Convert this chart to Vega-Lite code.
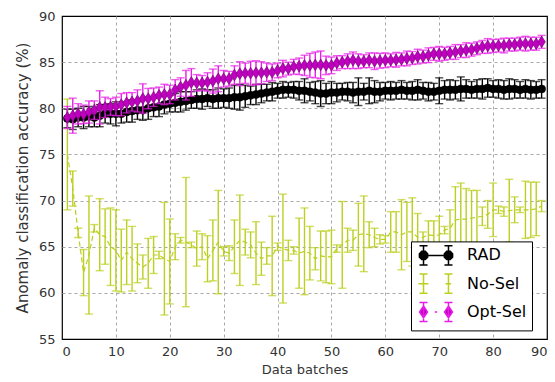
{
  "$schema": "https://vega.github.io/schema/vega-lite/v6.json",
  "width": 485,
  "height": 323,
  "autosize": "none",
  "padding": {"left": 62, "top": 16, "right": 8, "bottom": 43},
  "background": "white",
  "config": {
    "font": "DejaVu Sans",
    "view": {"stroke": "black", "strokeWidth": 1.2},
    "axis": {
      "grid": true, "gridColor": "#a8a8a8", "gridDash": [3, 3], "gridWidth": 1,
      "domain": false, "ticks": false,
      "labelFont": "DejaVu Sans", "labelFontSize": 13, "labelColor": "#333333",
      "titleFont": "DejaVu Sans", "titleFontWeight": "normal", "titleColor": "#333333"
    }
  },
  "data": {"values": [
    {"series":"RAD","batch":1,"acc":78.9,"err":1.0},{"series":"RAD","batch":2,"acc":78.8,"err":1.1},{"series":"RAD","batch":3,"acc":79.0,"err":1.0},{"series":"RAD","batch":4,"acc":79.0,"err":1.2},{"series":"RAD","batch":5,"acc":79.1,"err":1.1},{"series":"RAD","batch":6,"acc":79.0,"err":1.0},{"series":"RAD","batch":7,"acc":79.2,"err":1.2},{"series":"RAD","batch":8,"acc":79.4,"err":1.0},{"series":"RAD","batch":9,"acc":79.4,"err":1.1},{"series":"RAD","batch":10,"acc":79.4,"err":1.3},
    {"series":"RAD","batch":11,"acc":79.4,"err":1.0},{"series":"RAD","batch":12,"acc":79.6,"err":1.1},{"series":"RAD","batch":13,"acc":79.7,"err":1.2},{"series":"RAD","batch":14,"acc":79.8,"err":1.0},{"series":"RAD","batch":15,"acc":79.8,"err":1.1},{"series":"RAD","batch":16,"acc":80.0,"err":1.2},{"series":"RAD","batch":17,"acc":80.1,"err":1.0},{"series":"RAD","batch":18,"acc":80.2,"err":1.1},{"series":"RAD","batch":19,"acc":80.4,"err":1.0},{"series":"RAD","batch":20,"acc":80.5,"err":0.9},
    {"series":"RAD","batch":21,"acc":80.6,"err":1.0},{"series":"RAD","batch":22,"acc":80.7,"err":1.1},{"series":"RAD","batch":23,"acc":80.8,"err":1.0},{"series":"RAD","batch":24,"acc":80.9,"err":0.9},{"series":"RAD","batch":25,"acc":81.0,"err":1.0},{"series":"RAD","batch":26,"acc":81.0,"err":1.1},{"series":"RAD","batch":27,"acc":81.1,"err":0.9},{"series":"RAD","batch":28,"acc":81.0,"err":1.0},{"series":"RAD","batch":29,"acc":81.1,"err":1.1},{"series":"RAD","batch":30,"acc":81.1,"err":1.0},
    {"series":"RAD","batch":31,"acc":81.1,"err":1.1},{"series":"RAD","batch":32,"acc":81.2,"err":1.3},{"series":"RAD","batch":33,"acc":81.2,"err":1.4},{"series":"RAD","batch":34,"acc":81.3,"err":1.2},{"series":"RAD","batch":35,"acc":81.4,"err":1.0},{"series":"RAD","batch":36,"acc":81.5,"err":1.1},{"series":"RAD","batch":37,"acc":81.6,"err":1.0},{"series":"RAD","batch":38,"acc":81.7,"err":0.9},{"series":"RAD","batch":39,"acc":81.8,"err":1.0},{"series":"RAD","batch":40,"acc":81.9,"err":0.8},
    {"series":"RAD","batch":41,"acc":82.0,"err":0.9},{"series":"RAD","batch":42,"acc":82.0,"err":0.8},{"series":"RAD","batch":43,"acc":82.0,"err":0.9},{"series":"RAD","batch":44,"acc":81.9,"err":1.0},{"series":"RAD","batch":45,"acc":81.9,"err":1.3},{"series":"RAD","batch":46,"acc":81.8,"err":1.0},{"series":"RAD","batch":47,"acc":81.7,"err":1.2},{"series":"RAD","batch":48,"acc":81.6,"err":1.4},{"series":"RAD","batch":49,"acc":81.6,"err":1.1},{"series":"RAD","batch":50,"acc":81.7,"err":1.2},
    {"series":"RAD","batch":51,"acc":81.7,"err":1.0},{"series":"RAD","batch":52,"acc":81.8,"err":0.9},{"series":"RAD","batch":53,"acc":81.8,"err":1.0},{"series":"RAD","batch":54,"acc":81.7,"err":1.1},{"series":"RAD","batch":55,"acc":81.8,"err":1.5},{"series":"RAD","batch":56,"acc":81.8,"err":0.9},{"series":"RAD","batch":57,"acc":81.9,"err":1.4},{"series":"RAD","batch":58,"acc":81.8,"err":1.2},{"series":"RAD","batch":59,"acc":81.8,"err":1.0},{"series":"RAD","batch":60,"acc":81.9,"err":0.9},
    {"series":"RAD","batch":61,"acc":81.9,"err":1.0},{"series":"RAD","batch":62,"acc":81.9,"err":0.9},{"series":"RAD","batch":63,"acc":82.0,"err":1.0},{"series":"RAD","batch":64,"acc":81.9,"err":0.9},{"series":"RAD","batch":65,"acc":81.9,"err":1.0},{"series":"RAD","batch":66,"acc":82.0,"err":1.1},{"series":"RAD","batch":67,"acc":81.9,"err":0.9},{"series":"RAD","batch":68,"acc":81.8,"err":1.0},{"series":"RAD","batch":69,"acc":81.8,"err":0.9},{"series":"RAD","batch":70,"acc":81.9,"err":1.4},
    {"series":"RAD","batch":71,"acc":82.0,"err":1.0},{"series":"RAD","batch":72,"acc":82.0,"err":1.1},{"series":"RAD","batch":73,"acc":82.0,"err":1.0},{"series":"RAD","batch":74,"acc":82.1,"err":1.3},{"series":"RAD","batch":75,"acc":82.1,"err":1.0},{"series":"RAD","batch":76,"acc":82.0,"err":0.9},{"series":"RAD","batch":77,"acc":82.1,"err":1.0},{"series":"RAD","batch":78,"acc":82.1,"err":1.1},{"series":"RAD","batch":79,"acc":82.2,"err":1.0},{"series":"RAD","batch":80,"acc":82.1,"err":0.9},
    {"series":"RAD","batch":81,"acc":82.1,"err":1.0},{"series":"RAD","batch":82,"acc":82.0,"err":1.0},{"series":"RAD","batch":83,"acc":82.1,"err":1.1},{"series":"RAD","batch":84,"acc":82.1,"err":1.0},{"series":"RAD","batch":85,"acc":82.0,"err":0.9},{"series":"RAD","batch":86,"acc":82.1,"err":1.0},{"series":"RAD","batch":87,"acc":82.0,"err":1.0},{"series":"RAD","batch":88,"acc":82.0,"err":0.9},{"series":"RAD","batch":89,"acc":82.1,"err":1.0},

    {"series":"No-Sel","batch":1,"acc":75.0,"err":6.0},{"series":"No-Sel","batch":2,"acc":71.3,"err":1.9},{"series":"No-Sel","batch":3,"acc":66.5,"err":0.5},{"series":"No-Sel","batch":4,"acc":62.2,"err":2.5},{"series":"No-Sel","batch":5,"acc":64.1,"err":6.4},{"series":"No-Sel","batch":6,"acc":67.0,"err":0.4},{"series":"No-Sel","batch":7,"acc":66.3,"err":3.9},{"series":"No-Sel","batch":8,"acc":66.1,"err":3.0},{"series":"No-Sel","batch":9,"acc":65.0,"err":4.2},{"series":"No-Sel","batch":10,"acc":64.6,"err":4.4},
    {"series":"No-Sel","batch":11,"acc":63.5,"err":3.4},{"series":"No-Sel","batch":12,"acc":64.4,"err":3.5},{"series":"No-Sel","batch":13,"acc":63.7,"err":3.5},{"series":"No-Sel","batch":14,"acc":63.2,"err":2.1},{"series":"No-Sel","batch":15,"acc":62.8,"err":1.3},{"series":"No-Sel","batch":16,"acc":63.2,"err":2.7},{"series":"No-Sel","batch":17,"acc":64.1,"err":2.0},{"series":"No-Sel","batch":18,"acc":64.1,"err":0.4},{"series":"No-Sel","batch":19,"acc":63.7,"err":6.1},{"series":"No-Sel","batch":20,"acc":63.4,"err":4.6},
    {"series":"No-Sel","batch":21,"acc":65.0,"err":1.4},{"series":"No-Sel","batch":22,"acc":65.7,"err":0.3},{"series":"No-Sel","batch":23,"acc":65.5,"err":7.0},{"series":"No-Sel","batch":24,"acc":65.2,"err":0.3},{"series":"No-Sel","batch":25,"acc":64.8,"err":1.9},{"series":"No-Sel","batch":26,"acc":65.0,"err":1.4},{"series":"No-Sel","batch":27,"acc":63.7,"err":2.5},{"series":"No-Sel","batch":28,"acc":64.6,"err":3.3},{"series":"No-Sel","batch":29,"acc":65.5,"err":5.6},{"series":"No-Sel","batch":30,"acc":64.5,"err":0.5},
    {"series":"No-Sel","batch":31,"acc":64.3,"err":0.8},{"series":"No-Sel","batch":32,"acc":65.0,"err":2.9},{"series":"No-Sel","batch":33,"acc":65.7,"err":4.9},{"series":"No-Sel","batch":34,"acc":65.5,"err":1.4},{"series":"No-Sel","batch":35,"acc":65.2,"err":1.4},{"series":"No-Sel","batch":36,"acc":64.3,"err":3.4},{"series":"No-Sel","batch":37,"acc":63.7,"err":1.8},{"series":"No-Sel","batch":38,"acc":64.0,"err":0.9},{"series":"No-Sel","batch":39,"acc":64.0,"err":4.3},{"series":"No-Sel","batch":40,"acc":65.0,"err":0.4},
    {"series":"No-Sel","batch":41,"acc":64.8,"err":5.9},{"series":"No-Sel","batch":42,"acc":64.6,"err":1.1},{"series":"No-Sel","batch":43,"acc":64.6,"err":0.4},{"series":"No-Sel","batch":44,"acc":64.3,"err":3.8},{"series":"No-Sel","batch":45,"acc":64.5,"err":4.7},{"series":"No-Sel","batch":46,"acc":64.3,"err":2.9},{"series":"No-Sel","batch":47,"acc":63.7,"err":1.2},{"series":"No-Sel","batch":48,"acc":64.0,"err":2.7},{"series":"No-Sel","batch":49,"acc":63.9,"err":2.8},{"series":"No-Sel","batch":50,"acc":63.9,"err":2.9},
    {"series":"No-Sel","batch":51,"acc":64.8,"err":0.4},{"series":"No-Sel","batch":52,"acc":65.2,"err":4.7},{"series":"No-Sel","batch":53,"acc":65.7,"err":1.3},{"series":"No-Sel","batch":54,"acc":65.7,"err":1.1},{"series":"No-Sel","batch":55,"acc":66.3,"err":3.4},{"series":"No-Sel","batch":56,"acc":66.4,"err":4.1},{"series":"No-Sel","batch":57,"acc":66.3,"err":1.4},{"series":"No-Sel","batch":58,"acc":66.0,"err":1.0},{"series":"No-Sel","batch":59,"acc":65.8,"err":0.5},{"series":"No-Sel","batch":60,"acc":65.8,"err":0.4},
    {"series":"No-Sel","batch":61,"acc":66.6,"err":2.2},{"series":"No-Sel","batch":62,"acc":66.6,"err":2.2},{"series":"No-Sel","batch":63,"acc":66.3,"err":3.8},{"series":"No-Sel","batch":64,"acc":66.6,"err":3.2},{"series":"No-Sel","batch":65,"acc":66.6,"err":3.7},{"series":"No-Sel","batch":66,"acc":66.0,"err":2.6},{"series":"No-Sel","batch":67,"acc":66.0,"err":0.6},{"series":"No-Sel","batch":68,"acc":66.3,"err":1.5},{"series":"No-Sel","batch":69,"acc":66.2,"err":1.6},{"series":"No-Sel","batch":70,"acc":66.3,"err":2.0},
    {"series":"No-Sel","batch":71,"acc":66.8,"err":0.4},{"series":"No-Sel","batch":72,"acc":67.0,"err":2.0},{"series":"No-Sel","batch":73,"acc":67.9,"err":3.6},{"series":"No-Sel","batch":74,"acc":68.0,"err":3.9},{"series":"No-Sel","batch":75,"acc":68.0,"err":3.3},{"series":"No-Sel","batch":76,"acc":68.1,"err":3.0},{"series":"No-Sel","batch":77,"acc":68.2,"err":2.9},{"series":"No-Sel","batch":78,"acc":68.3,"err":1.0},{"series":"No-Sel","batch":79,"acc":68.5,"err":1.5},{"series":"No-Sel","batch":80,"acc":69.0,"err":2.9},
    {"series":"No-Sel","batch":81,"acc":69.0,"err":0.4},{"series":"No-Sel","batch":82,"acc":68.8,"err":0.5},{"series":"No-Sel","batch":83,"acc":68.9,"err":3.4},{"series":"No-Sel","batch":84,"acc":69.0,"err":1.4},{"series":"No-Sel","batch":85,"acc":69.0,"err":0.3},{"series":"No-Sel","batch":86,"acc":69.0,"err":3.1},{"series":"No-Sel","batch":87,"acc":69.0,"err":3.0},{"series":"No-Sel","batch":88,"acc":69.1,"err":2.9},{"series":"No-Sel","batch":89,"acc":69.4,"err":0.6},

    {"series":"Opt-Sel","batch":1,"acc":79.0,"err":1.2},{"series":"Opt-Sel","batch":2,"acc":79.2,"err":1.9},{"series":"Opt-Sel","batch":3,"acc":79.4,"err":1.1},{"series":"Opt-Sel","batch":4,"acc":79.35,"err":1.0},{"series":"Opt-Sel","batch":5,"acc":79.6,"err":1.2},{"series":"Opt-Sel","batch":6,"acc":79.8,"err":1.0},{"series":"Opt-Sel","batch":7,"acc":80.1,"err":1.8},{"series":"Opt-Sel","batch":8,"acc":80.1,"err":1.1},{"series":"Opt-Sel","batch":9,"acc":80.15,"err":0.9},{"series":"Opt-Sel","batch":10,"acc":80.2,"err":1.0},
    {"series":"Opt-Sel","batch":11,"acc":80.4,"err":1.2},{"series":"Opt-Sel","batch":12,"acc":80.6,"err":1.1},{"series":"Opt-Sel","batch":13,"acc":80.7,"err":1.0},{"series":"Opt-Sel","batch":14,"acc":80.8,"err":1.2},{"series":"Opt-Sel","batch":15,"acc":81.05,"err":1.6},{"series":"Opt-Sel","batch":16,"acc":81.05,"err":1.1},{"series":"Opt-Sel","batch":17,"acc":81.2,"err":1.0},{"series":"Opt-Sel","batch":18,"acc":81.4,"err":0.9},{"series":"Opt-Sel","batch":19,"acc":81.5,"err":1.1},{"series":"Opt-Sel","batch":20,"acc":81.5,"err":1.0},
    {"series":"Opt-Sel","batch":21,"acc":82.0,"err":1.1},{"series":"Opt-Sel","batch":22,"acc":82.3,"err":1.0},{"series":"Opt-Sel","batch":23,"acc":82.5,"err":1.6},{"series":"Opt-Sel","batch":24,"acc":82.8,"err":1.5},{"series":"Opt-Sel","batch":25,"acc":82.75,"err":0.9},{"series":"Opt-Sel","batch":26,"acc":82.75,"err":0.8},{"series":"Opt-Sel","batch":27,"acc":82.85,"err":1.0},{"series":"Opt-Sel","batch":28,"acc":82.95,"err":1.3},{"series":"Opt-Sel","batch":29,"acc":83.2,"err":1.4},{"series":"Opt-Sel","batch":30,"acc":83.2,"err":0.9},
    {"series":"Opt-Sel","batch":31,"acc":83.2,"err":0.8},{"series":"Opt-Sel","batch":32,"acc":83.6,"err":1.0},{"series":"Opt-Sel","batch":33,"acc":83.75,"err":1.3},{"series":"Opt-Sel","batch":34,"acc":83.8,"err":1.1},{"series":"Opt-Sel","batch":35,"acc":83.8,"err":1.3},{"series":"Opt-Sel","batch":36,"acc":83.85,"err":1.3},{"series":"Opt-Sel","batch":37,"acc":83.85,"err":1.2},{"series":"Opt-Sel","batch":38,"acc":83.9,"err":1.0},{"series":"Opt-Sel","batch":39,"acc":83.9,"err":0.9},{"series":"Opt-Sel","batch":40,"acc":84.1,"err":0.8},
    {"series":"Opt-Sel","batch":41,"acc":84.3,"err":0.9},{"series":"Opt-Sel","batch":42,"acc":84.3,"err":0.7},{"series":"Opt-Sel","batch":43,"acc":84.5,"err":0.8},{"series":"Opt-Sel","batch":44,"acc":84.55,"err":0.9},{"series":"Opt-Sel","batch":45,"acc":84.65,"err":1.1},{"series":"Opt-Sel","batch":46,"acc":84.65,"err":1.3},{"series":"Opt-Sel","batch":47,"acc":84.7,"err":1.4},{"series":"Opt-Sel","batch":48,"acc":84.7,"err":1.5},{"series":"Opt-Sel","batch":49,"acc":84.65,"err":1.0},{"series":"Opt-Sel","batch":50,"acc":84.65,"err":0.9},
    {"series":"Opt-Sel","batch":51,"acc":84.9,"err":0.8},{"series":"Opt-Sel","batch":52,"acc":85.0,"err":0.7},{"series":"Opt-Sel","batch":53,"acc":85.1,"err":0.8},{"series":"Opt-Sel","batch":54,"acc":85.2,"err":0.9},{"series":"Opt-Sel","batch":55,"acc":85.1,"err":0.8},{"series":"Opt-Sel","batch":56,"acc":85.1,"err":0.7},{"series":"Opt-Sel","batch":57,"acc":85.2,"err":0.8},{"series":"Opt-Sel","batch":58,"acc":85.1,"err":0.9},{"series":"Opt-Sel","batch":59,"acc":85.15,"err":0.8},{"series":"Opt-Sel","batch":60,"acc":85.2,"err":0.8},
    {"series":"Opt-Sel","batch":61,"acc":85.2,"err":0.7},{"series":"Opt-Sel","batch":62,"acc":85.25,"err":0.8},{"series":"Opt-Sel","batch":63,"acc":85.3,"err":0.7},{"series":"Opt-Sel","batch":64,"acc":85.4,"err":0.8},{"series":"Opt-Sel","batch":65,"acc":85.45,"err":0.7},{"series":"Opt-Sel","batch":66,"acc":85.6,"err":0.8},{"series":"Opt-Sel","batch":67,"acc":85.6,"err":0.7},{"series":"Opt-Sel","batch":68,"acc":85.75,"err":0.8},{"series":"Opt-Sel","batch":69,"acc":85.9,"err":0.7},{"series":"Opt-Sel","batch":70,"acc":85.9,"err":0.8},
    {"series":"Opt-Sel","batch":71,"acc":85.9,"err":0.7},{"series":"Opt-Sel","batch":72,"acc":86.0,"err":0.7},{"series":"Opt-Sel","batch":73,"acc":86.1,"err":0.8},{"series":"Opt-Sel","batch":74,"acc":86.2,"err":0.7},{"series":"Opt-Sel","batch":75,"acc":86.3,"err":0.8},{"series":"Opt-Sel","batch":76,"acc":86.35,"err":0.7},{"series":"Opt-Sel","batch":77,"acc":86.5,"err":0.7},{"series":"Opt-Sel","batch":78,"acc":86.65,"err":0.7},{"series":"Opt-Sel","batch":79,"acc":86.75,"err":0.8},{"series":"Opt-Sel","batch":80,"acc":86.75,"err":0.7},
    {"series":"Opt-Sel","batch":81,"acc":86.8,"err":0.7},{"series":"Opt-Sel","batch":82,"acc":86.8,"err":0.8},{"series":"Opt-Sel","batch":83,"acc":86.9,"err":0.7},{"series":"Opt-Sel","batch":84,"acc":86.9,"err":0.7},{"series":"Opt-Sel","batch":85,"acc":87.0,"err":0.7},{"series":"Opt-Sel","batch":86,"acc":87.0,"err":0.8},{"series":"Opt-Sel","batch":87,"acc":87.0,"err":0.7},{"series":"Opt-Sel","batch":88,"acc":87.0,"err":0.7},{"series":"Opt-Sel","batch":89,"acc":87.2,"err":0.7}
  ]},
  "encoding": {
    "x": {"field": "batch", "type": "quantitative", "title": "Data batches",
          "scale": {"domain": [0, 90], "nice": false, "zero": false},
          "axis": {"values": [0,10,20,30,40,50,60,70,80,90], "labelPadding": 6, "titleFontSize": 13, "titlePadding": 5,
                   "gridOpacity": {"condition": {"test": "datum.value === 0 || datum.value === 90", "value": 0}, "value": 1}}},
    "y": {"field": "acc", "type": "quantitative", "title": "Anomaly classification accuracy (%)",
          "scale": {"domain": [55, 90], "nice": false, "zero": false},
          "axis": {"values": [55,60,65,70,75,80,85,90], "labelPadding": 7, "titleFontSize": 15, "titlePadding": 8,
                   "gridOpacity": {"condition": {"test": "datum.value === 55 || datum.value === 90", "value": 0}, "value": 1}}}
  },
  "layer": [
    {
      "transform": [{"filter": "datum.series === 'No-Sel'"}],
      "mark": {"type": "errorbar", "ticks": {"size": 8}, "thickness": 1.4, "color": "#bccf1f", "clip": true},
      "encoding": {"yError": {"field": "err"}}
    },
    {
      "transform": [{"filter": "datum.series === 'No-Sel'"}],
      "mark": {"type": "line", "color": "#bccf1f", "strokeWidth": 1.2, "strokeDash": [5, 3], "clip": true},
      "encoding": {}
    },
    {
      "transform": [{"filter": "datum.series === 'RAD'"}],
      "mark": {"type": "errorbar", "ticks": {"size": 8}, "thickness": 1.4, "color": "black", "clip": true},
      "encoding": {"yError": {"field": "err"}}
    },
    {
      "transform": [{"filter": "datum.series === 'RAD'"}],
      "mark": {"type": "line", "color": "black", "strokeWidth": 1.2, "clip": true},
      "encoding": {}
    },
    {
      "transform": [{"filter": "datum.series === 'RAD'"}],
      "mark": {"type": "point", "shape": "circle", "filled": true, "fill": "black", "stroke": "black", "strokeWidth": 0.5, "opacity": 1, "size": 64, "clip": true},
      "encoding": {}
    },
    {
      "transform": [{"filter": "datum.series === 'Opt-Sel'"}],
      "mark": {"type": "errorbar", "ticks": {"size": 8}, "thickness": 1.4, "color": "#e61ee6", "clip": true},
      "encoding": {"yError": {"field": "err"}}
    },
    {
      "transform": [{"filter": "datum.series === 'Opt-Sel'"}],
      "mark": {"type": "point", "shape": "M0,-1L0.64,0L0,1L-0.64,0Z", "filled": true, "fill": "#c000c0", "stroke": "#700070", "strokeWidth": 0.6, "opacity": 1, "size": 135, "clip": true},
      "encoding": {}
    },
    {
      "mark": {"type": "point", "filled": true, "opacity": 0, "size": 256},
      "encoding": {
        "fill": {"field": "series", "type": "nominal",
          "scale": {"domain": ["RAD", "No-Sel", "Opt-Sel"], "range": ["black", "#bccf1f", "#c000c0"]},
          "legend": {"orient": "none", "legendX": 349, "legendY": 225.4, "title": null, "padding": 5,
                     "strokeColor": "black", "fillColor": "white", "cornerRadius": 0,
                     "symbolSize": 256, "symbolStrokeWidth": 1.5, "symbolOpacity": 1,
                     "symbolOffset": 11, "labelOffset": 22, "rowPadding": 2.3, "columnPadding": 0,
                     "labelFont": "DejaVu Sans", "labelFontSize": 16, "labelColor": "black",
                     "encode": {"symbols": {"update": {
                       "fill": {"signal": "datum.value === 'RAD' ? 'black' : datum.value === 'Opt-Sel' ? '#c000c0' : 'transparent'"},
                       "fillOpacity": {"value": 1}}}}}},
        "stroke": {"field": "series", "type": "nominal",
          "scale": {"domain": ["RAD", "No-Sel", "Opt-Sel"], "range": ["black", "#bccf1f", "#e61ee6"]}},
        "shape": {"field": "series", "type": "nominal",
          "scale": {"domain": ["RAD", "No-Sel", "Opt-Sel"], "range": [
            "M-1.56,-1.2L-1.56,1.2M-2.06,-1.2L-1.06,-1.2M-2.06,1.2L-1.06,1.2M1.56,-1.2L1.56,1.2M1.06,-1.2L2.06,-1.2M1.06,1.2L2.06,1.2M-1.56,0L1.56,0M-1.043,0.214L-1.346,0.517L-1.774,0.517L-2.077,0.214L-2.077,-0.214L-1.774,-0.517L-1.346,-0.517L-1.043,-0.214ZM2.077,0.214L1.774,0.517L1.346,0.517L1.043,0.214L1.043,-0.214L1.346,-0.517L1.774,-0.517L2.077,-0.214Z",
            "M-1.56,-1.2L-1.56,1.2M-2.06,-1.2L-1.06,-1.2M-2.06,1.2L-1.06,1.2M1.56,-1.2L1.56,1.2M1.06,-1.2L2.06,-1.2M1.06,1.2L2.06,1.2M-2.2,0L-0.95,0M1.2,0L1.9,0",
            "M-1.56,-1.2L-1.56,1.2M-2.06,-1.2L-1.06,-1.2M-2.06,1.2L-1.06,1.2M1.56,-1.2L1.56,1.2M1.06,-1.2L2.06,-1.2M1.06,1.2L2.06,1.2M-0.15,0L0.15,0M-1.56,-0.75L-1.06,0L-1.56,0.75L-2.06,0ZM1.56,-0.75L2.06,0L1.56,0.75L1.06,0Z"
          ]}}
      }
    }
  ]
}
